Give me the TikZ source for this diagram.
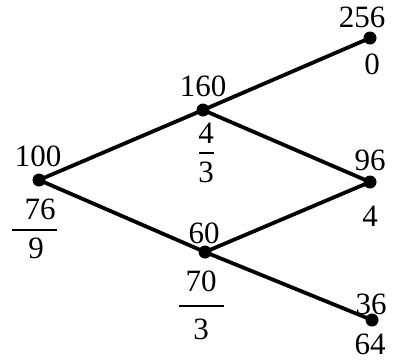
\documentclass[tikz,border=0pt]{standalone}
\usepackage{fontspec}
\setmainfont{Liberation Serif}
\begin{document}
\begin{tikzpicture}[x=1pt,y=-1pt,
  dot/.style={circle,fill=black,inner sep=0pt,minimum size=13pt},
  edge/.style={line width=3.8pt},
  lbl/.style={inner sep=0pt,font=\fontsize{31}{31}\selectfont},
  fbar/.style={line width=1.8pt}]
\useasboundingbox (0,0) rectangle (396,362);
% dots
\node[dot] (a) at (39,180) {};
\node[dot] (b) at (203,110) {};
\node[dot] (c) at (205,252) {};
\node[dot] (d) at (370,38) {};
\node[dot] (e) at (370,182) {};
\node[dot] (f) at (372,320) {};
% edges
\draw[edge] (a.center) -- (b.center);
\draw[edge] (a.center) -- (c.center);
\draw[edge] (b.center) -- (d.center);
\draw[edge] (b.center) -- (e.center);
\draw[edge] (c.center) -- (e.center);
\draw[edge] (c.center) -- (f.center);
% labels
\node[lbl] (ta) at (38,156) {100};
\node[lbl] (na) at (40,209) {76};
\node[lbl] (da) at (36,248) {9};
\draw[fbar] (12,230) -- (57,230);
\node[lbl] (tb) at (203,86) {160};
\node[lbl] (nb) at (206,133) {4};
\node[lbl] (db) at (206,172) {3};
\draw[fbar] (199,153) -- (214,153);
\node[lbl] (tc) at (204,233) {60};
\node[lbl] (nc) at (201,281) {70};
\node[lbl] (dc) at (201,329) {3};
\draw[fbar] (179,306) -- (224,306);
\node[lbl] (td) at (362,17) {256};
\node[lbl] (bd) at (372,64) {0};
\node[lbl] (te) at (370,160) {96};
\node[lbl] (be) at (370,216) {4};
\node[lbl] (tf) at (371,304) {36};
\node[lbl] (bf) at (370,344) {64};
\end{tikzpicture}
\end{document}
